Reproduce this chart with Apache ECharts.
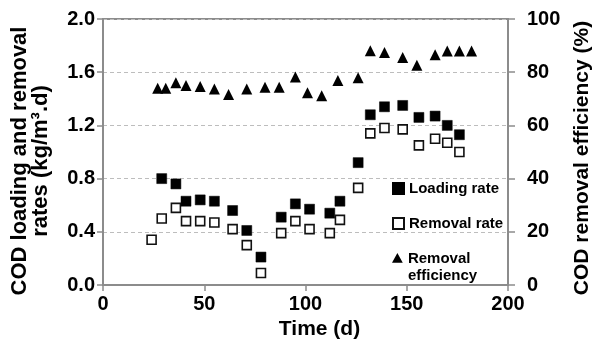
<!DOCTYPE html>
<html>
<head>
<meta charset="utf-8">
<script src="https://cdn.jsdelivr.net/npm/echarts@6/dist/echarts.min.js"></script>
<style>
html,body{margin:0;padding:0;background:#fff;}
#c{width:592px;height:345px;}
</style>
</head>
<body>
<div id="c"></div>
<script>
const loadDays = [29, 36, 41, 48, 55, 64, 71, 78, 88, 95, 102, 112, 117, 126, 132, 139, 148, 156, 164, 170, 176];
const loadRate = [0.80, 0.76, 0.63, 0.64, 0.63, 0.56, 0.41, 0.21, 0.51, 0.61, 0.57, 0.54, 0.63, 0.92, 1.28, 1.34, 1.35, 1.26, 1.27, 1.20, 1.13];
const removalDays = [24, 29, 36, 41, 48, 55, 64, 71, 78, 88, 95, 102, 112, 117, 126, 132, 139, 148, 156, 164, 170, 176];
const removalRate = [0.34, 0.50, 0.58, 0.48, 0.48, 0.47, 0.42, 0.30, 0.09, 0.39, 0.48, 0.42, 0.39, 0.49, 0.73, 1.14, 1.18, 1.17, 1.05, 1.10, 1.07, 1.00];
const effDays = [27, 31, 36, 41, 48, 55, 62, 71, 80, 87, 95, 101, 108, 116, 126, 132, 139, 148, 155, 164, 170, 176, 182];
const effValues = [74, 74, 76, 75, 74.6, 73.7, 71.6, 73.7, 74.3, 74.3, 78.2, 72.3, 71.1, 76.9, 77.9, 88.1, 87.4, 85.5, 82.6, 86.6, 88, 88, 88];
const xTicks = [0, 50, 100, 150, 200];
const yLeftTicks = [0, 0.4, 0.8, 1.2, 1.6, 2.0];
const yRightTicks = [0, 20, 40, 60, 80, 100];

const pair = (xs, ys) => xs.map((x, i) => [x, ys[i]]);
const FONT = 'Liberation Sans, Arial, sans-serif';
const axisGrey = '#8c8c8c';
const legendText = {fontFamily: FONT, fontSize: 15, fontWeight: 'bold', color: '#000', lineHeight: 17};

const chart = echarts.init(document.getElementById('c'), null, {renderer: 'canvas'});
chart.setOption({
  animation: false,
  backgroundColor: '#fff',
  textStyle: {fontFamily: FONT},
  grid: {left: 103, right: 84, top: 19, bottom: 60, containLabel: false, outerBoundsMode: 'none',
         show: true, borderColor: axisGrey, borderWidth: 2, backgroundColor: 'transparent'},
  legend: [{
    orient: 'vertical', left: 392, top: 180, padding: 0, itemGap: 18,
    itemWidth: 11, itemHeight: 11,
    data: ['Loading rate', 'Removal rate'],
    textStyle: legendText
  }, {
    orient: 'vertical', left: 392, top: 250, padding: 0,
    itemWidth: 11, itemHeight: 28, symbolKeepAspect: true,
    data: [{name: 'Removal efficiency', icon: 'path://M5,0 L10,9 L0,9 Z M0,26 L10,26 Z'}],
    formatter: n => n.replace(' ', '\n'),
    textStyle: legendText
  }],
  xAxis: {
    type: 'value', min: xTicks[0], max: xTicks[xTicks.length - 1], interval: 50,
    name: 'Time (d)', nameLocation: 'middle', nameGap: 34,
    nameTextStyle: {fontFamily: FONT, fontSize: 21, fontWeight: 'bold', color: '#000', padding: [0, 0, 0, 28]},
    axisLine: {show: true, lineStyle: {color: axisGrey, width: 2}},
    axisTick: {show: true, length: 6, lineStyle: {color: axisGrey, width: 1.5}},
    axisLabel: {fontFamily: FONT, fontSize: 20, fontWeight: 'bold', color: '#000', margin: 9},
    splitLine: {show: false}
  },
  yAxis: [{
    type: 'value', min: yLeftTicks[0], max: yLeftTicks[yLeftTicks.length - 1], interval: 0.4,
    name: 'COD loading and removal\nrates (kg/m\u00B3.d)', nameLocation: 'middle', nameGap: 52,
    nameTextStyle: {fontFamily: FONT, fontSize: 22, fontWeight: 'bold', color: '#000', lineHeight: 21, padding: [0, 18, 0, 0]},
    axisLine: {show: true, lineStyle: {color: axisGrey, width: 2}},
    axisTick: {show: true, length: 6, lineStyle: {color: axisGrey, width: 1.5}},
    axisLabel: {fontFamily: FONT, fontSize: 20, fontWeight: 'bold', color: '#000', margin: 8, formatter: v => v.toFixed(1)},
    splitLine: {show: true, lineStyle: {color: '#bdbdbd', type: [4, 3], width: 1}}
  }, {
    type: 'value', min: yRightTicks[0], max: yRightTicks[yRightTicks.length - 1], interval: 20, position: 'right',
    name: 'COD removal efficiency (%)', nameLocation: 'middle', nameGap: 64,
    nameTextStyle: {fontFamily: FONT, fontSize: 21, fontWeight: 'bold', color: '#000', padding: [0, 12, 0, 0]},
    axisLine: {show: true, lineStyle: {color: axisGrey, width: 2}},
    axisTick: {show: true, length: 7, lineStyle: {color: axisGrey, width: 1.5}},
    axisLabel: {fontFamily: FONT, fontSize: 20, fontWeight: 'bold', color: '#000', margin: 19},
    splitLine: {show: false}
  }],
  series: [{
    name: 'Loading rate', type: 'scatter', yAxisIndex: 0, symbol: 'rect', symbolSize: 10,
    itemStyle: {color: '#000', borderColor: '#000', borderWidth: 0.5, opacity: 1},
    data: pair(loadDays, loadRate), z: 3
  }, {
    name: 'Removal rate', type: 'scatter', yAxisIndex: 0, symbol: 'rect', symbolSize: 9,
    itemStyle: {color: '#fff', borderColor: '#111', borderWidth: 1.6, opacity: 1},
    data: pair(removalDays, removalRate), z: 4
  }, {
    name: 'Removal efficiency', type: 'scatter', yAxisIndex: 1, symbol: 'triangle', symbolSize: 11,
    itemStyle: {color: '#000', opacity: 1},
    data: pair(effDays, effValues), z: 3
  }]
});
</script>
</body>
</html>
